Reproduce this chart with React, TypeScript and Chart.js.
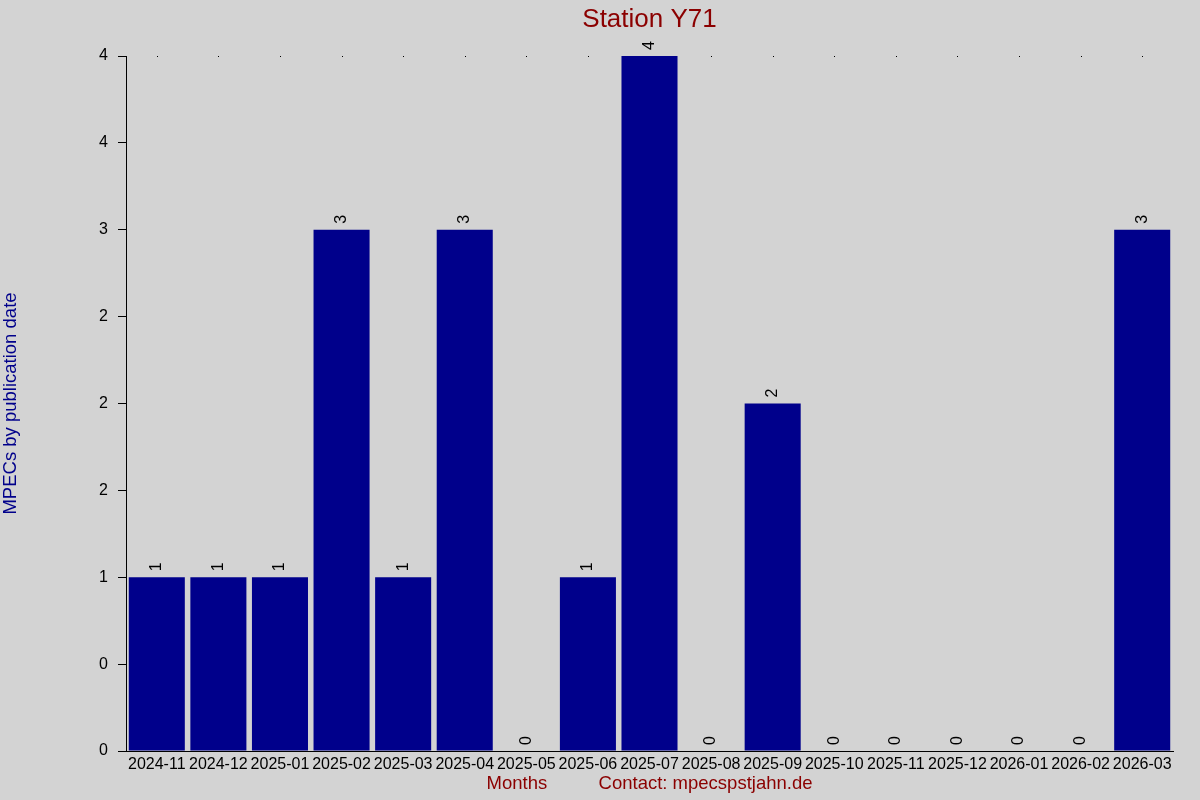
import React, { useEffect, useRef } from "react";
import { Chart, registerables } from "chart.js";

Chart.register(...registerables);

const months = [
  "2024-11", "2024-12", "2025-01", "2025-02", "2025-03", "2025-04",
  "2025-05", "2025-06", "2025-07", "2025-08", "2025-09", "2025-10",
  "2025-11", "2025-12", "2026-01", "2026-02", "2026-03",
];
const counts = [1, 1, 1, 3, 1, 3, 0, 1, 4, 0, 2, 0, 0, 0, 0, 0, 3];
const yTickLabels = ["0", "0", "1", "2", "2", "2", "3", "4", "4"];
const chartTitle = "Station Y71";
const yAxisTitle = "MPECs by publication date";
const xAxisTitle = "Months          Contact: mpecspstjahn.de";

const FONT = '"Liberation Sans", Arial, Helvetica, sans-serif';

const decorPlugin = {
  id: "decor",
  beforeDatasetsDraw(chart: any) {
    const { ctx, chartArea } = chart;
    const xs = chart.scales.x;
    ctx.save();
    ctx.fillStyle = "#000";
    months.forEach((_, i) => {
      const px = Math.round(xs.getPixelForValue(i));
      ctx.fillRect(px, Math.round(chartArea.top), 1, 1);
    });
    ctx.restore();
  },
  afterDatasetsDraw(chart: any) {
    const { ctx, chartArea } = chart;
    const meta = chart.getDatasetMeta(0);
    ctx.save();
    ctx.font = `16px ${FONT}`;
    ctx.fillStyle = "#000";
    ctx.textAlign = "left";
    ctx.textBaseline = "middle";
    meta.data.forEach((el: any, i: number) => {
      const { x, y } = el.getProps(["x", "y"], true);
      ctx.save();
      ctx.translate(x, y - 6);
      ctx.rotate(-Math.PI / 2);
      ctx.fillText(String(counts[i]), 0, 0);
      ctx.restore();
    });
    ctx.font = `26px ${FONT}`;
    ctx.fillStyle = "#8B0000";
    ctx.textAlign = "center";
    ctx.textBaseline = "alphabetic";
    ctx.fillText(chartTitle, (chartArea.left + chartArea.right) / 2, 27);
    ctx.restore();
  },
};

export default function App() {
  const canvasRef = useRef<HTMLCanvasElement | null>(null);

  useEffect(() => {
    document.body.style.margin = "0";
    document.body.style.background = "#D3D3D3";
    const canvas = canvasRef.current;
    if (!canvas) return;
    const chart = new Chart(canvas, {
      type: "bar",
      data: {
        labels: months,
        datasets: [
          {
            data: counts,
            backgroundColor: "#00008B",
            borderWidth: 0,
            categoryPercentage: 0.91,
            barPercentage: 1,
          },
        ],
      },
      options: {
        animation: false,
        responsive: true,
        maintainAspectRatio: false,
        layout: { padding: { top: 56, right: 27, left: 0, bottom: 0 } },
        plugins: {
          legend: { display: false },
          title: { display: false },
          tooltip: { enabled: false },
        },
        scales: {
          x: {
            afterFit: (s: any) => {
              s.height = 49;
            },
            grid: { display: false, drawTicks: false },
            border: { display: true, color: "#000", width: 1 },
            ticks: {
              color: "#000",
              font: { family: FONT, size: 16 },
              padding: 4,
              maxRotation: 0,
              minRotation: 0,
              autoSkip: false,
            },
            title: {
              display: true,
              text: xAxisTitle,
              color: "#8B0000",
              font: { family: FONT, size: 18.5 },
              padding: { top: 0, bottom: 5 },
            },
          },
          y: {
            min: 0,
            max: 4,
            afterFit: (s: any) => {
              s.width = 126;
            },
            grid: {
              drawOnChartArea: false,
              drawTicks: true,
              tickLength: 8,
              color: "#000",
              lineWidth: 1,
            },
            border: { display: true, color: "#000", width: 1 },
            ticks: {
              stepSize: 0.5,
              color: "#000",
              font: { family: FONT, size: 16 },
              padding: 10,
              callback: (_v: any, index: number) => yTickLabels[index] ?? "",
            },
            title: {
              display: true,
              text: yAxisTitle,
              color: "#00008B",
              font: { family: FONT, size: 18.5 },
              padding: { top: 0, bottom: 0 },
            },
          },
        },
      },
      plugins: [decorPlugin],
    });
    return () => chart.destroy();
  }, []);

  return (
    <div style={{ width: 1200, height: 800, background: "#D3D3D3", position: "relative" }}>
      <canvas ref={canvasRef} />
    </div>
  );
}
